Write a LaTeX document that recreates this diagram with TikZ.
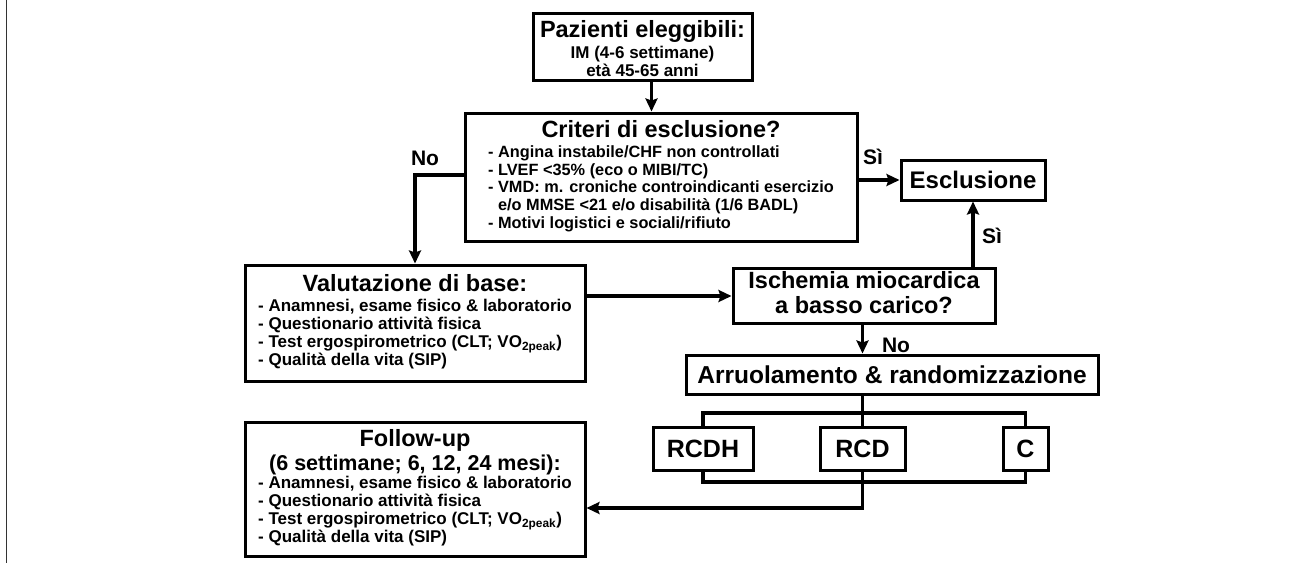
\documentclass[tikz,border=0pt]{standalone}
\usepackage{fontspec}
\setmainfont{Liberation Sans}
\usetikzlibrary{arrows.meta}
\newcommand\ttl{\fontsize{23.5}{25}\selectfont\bfseries}
\newcommand\ttlb{\fontsize{24.5}{26}\selectfont\bfseries}
\newcommand\ttls{\fontsize{21.5}{23}\selectfont\bfseries}
\newcommand\itm{\fontsize{17}{18}\selectfont\bfseries}
\newcommand\itmc{\fontsize{16.3}{17.7}\selectfont\bfseries}
\newcommand\lbf{\fontsize{21}{23}\selectfont\bfseries}
\newcommand\T[1]{\multicolumn{1}{@{}c@{}}{\ttl #1}}
\begin{document}
\begin{tikzpicture}[x=1pt,y=-1pt,
  box/.style={draw, line width=3pt, inner sep=0pt, rectangle},
  conn/.style={line width=3.2pt},
  arr/.style={conn, -{Stealth[length=13pt,width=12pt,inset=2pt]}},
  lbl/.style={font=\lbf, inner sep=0pt}]
\useasboundingbox (0,0) rectangle (1294,563);
\fill[white] (0,0) rectangle (1294,563);
\draw[line width=1.5pt, black!80] (6.5,0) -- (6.5,563);

% boxes
\node[box, minimum width=219pt, minimum height=67pt] (paz) at (642.5,46.5)
  {\raisebox{-5pt}[\height][\depth]{\itm\begin{tabular}{@{}c@{}}\ttl Pazienti eleggibili:\\[3pt] IM (4-6 settimane)\\ età 45-65 anni\end{tabular}}};
\node[box, minimum width=392pt, minimum height=128pt] (crit) at (661,177)
  {\itmc\begin{tabular}{@{}l@{}}\T{Criteri di esclusione?}\\[2pt]
  - Angina instabile/CHF non controllati\\
  - LVEF <35\% (eco o MIBI/TC)\\
  - VMD: m. croniche controindicanti esercizio\\
  \phantom{- }e/o MMSE <21 e/o disabilità (1/6 BADL)\\
  - Motivi logistici e sociali/rifiuto\end{tabular}};
\node[box, minimum width=144pt, minimum height=40pt] (escl) at (973,180)
  {\fontsize{24}{26}\selectfont\bfseries Esclusione};
\node[box, minimum width=340pt, minimum height=116pt] (val) at (415,323)
  {\itm\begin{tabular}{@{}l@{}}\T{Valutazione di base:}\\[2pt]
  - Anamnesi, esame fisico \& laboratorio\\
  - Questionario attività fisica\\
  - Test ergospirometrico (CLT; VO\textsubscript{2peak})\\
  - Qualità della vita (SIP)\end{tabular}};
\node[box, minimum width=262pt, minimum height=55pt] (isc) at (864,296)
  {\ttl\begin{tabular}{@{}c@{}}Ischemia miocardica\\ a basso carico?\end{tabular}};
\node[box, minimum width=412pt, minimum height=39pt] (arr) at (892,374.5)
  {\ttlb Arruolamento \& randomizzazione};
\node[box, minimum width=100pt, minimum height=43pt, font=\fontsize{25}{27}\selectfont\bfseries] (rcdh) at (703,448.5) {RCDH};
\node[box, minimum width=85pt, minimum height=43pt, font=\fontsize{25}{27}\selectfont\bfseries] (rcd) at (862.5,448.5) {RCD};
\node[box, minimum width=45pt, minimum height=43pt, font=\fontsize{25}{27}\selectfont\bfseries] (c) at (1025.5,448.5) {C};
\node[box, minimum width=340pt, minimum height=134pt] (fu) at (415,489)
  {\itm\begin{tabular}{@{}l@{}}\T{Follow-up}\\[3pt]
  \multicolumn{1}{@{}c@{}}{\ttls (6 settimane; 6, 12, 24 mesi):}\\
  - Anamnesi, esame fisico \& laboratorio\\
  - Questionario attività fisica\\
  - Test ergospirometrico (CLT; VO\textsubscript{2peak})\\
  - Qualità della vita (SIP)\end{tabular}};

% connectors
\draw[arr] ([xshift=9pt]paz.south) -- ([xshift=9pt]paz.south |- crit.north);
\draw[arr] ([yshift=2pt]crit.west) -| (val.north);
\draw[arr] (crit.east |- escl.west) -- (escl.west);
\draw[arr] (isc.north -| escl.south) -- (escl.south);
\draw[arr] (val.east |- isc.west) -- (isc.west);
\draw[arr] (isc.south -| rcd.north) -- (rcd.north |- arr.north);
\coordinate (top) at (862.5,413);
\coordinate (bot) at (862.5,482);
\draw[conn] (rcd.north |- arr.south) -- (rcd.north);
\draw[conn] (rcdh.north) -- (rcdh.north |- top) -- (c.north |- top) -- (c.north);
\draw[conn] (rcdh.south) -- (rcdh.south |- bot) -- (c.south |- bot) -- (c.south);
\draw[arr] (rcd.south) |- ([yshift=-19pt]fu.east);

% labels
\node[lbl] (l1) at (425,158) {No};
\node[lbl] (l2) at (873,157) {Sì};
\node[lbl] (l3) at (992,236) {Sì};
\node[lbl] (l4) at (896,345) {No};
\end{tikzpicture}
\end{document}
